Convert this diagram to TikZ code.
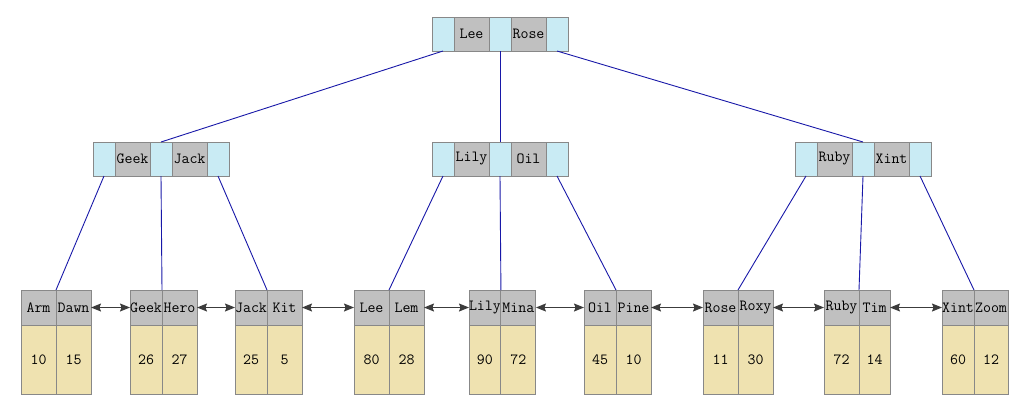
\documentclass[tikz,border=0pt]{standalone}
\usepackage{fontspec}
\usetikzlibrary{arrows.meta,positioning}
\definecolor{ptrcyan}{RGB}{201,235,244}
\definecolor{keygray}{RGB}{192,192,192}
\definecolor{valtan}{RGB}{239,226,176}
\definecolor{cellline}{RGB}{136,136,136}
\definecolor{treeblue}{RGB}{24,24,168}
\definecolor{sibgray}{RGB}{60,60,60}

\begin{document}
\begin{tikzpicture}[
      x=1pt, y=-1pt, node distance=0pt,
      cell/.style={draw=cellline, line width=0.9pt, inner sep=0pt, outer sep=0pt,
        font=\ttfamily\fontsize{15.5}{17}\selectfont},
      ptr/.style={cell, fill=ptrcyan, minimum width=22pt, minimum height=34pt},
      key/.style={cell, fill=keygray, minimum width=35pt, minimum height=34pt},
      lkey/.style={cell, fill=keygray, minimum height=35pt},
      val/.style={cell, fill=valtan, minimum height=69pt},
      link/.style={draw=treeblue, line width=0.9pt},
      sib/.style={{Stealth[length=10pt,width=8pt,inset=1.5pt]}-{Stealth[length=10pt,width=8pt,inset=1.5pt]},
        draw=sibgray, line width=1pt},
    ]
    \useasboundingbox (0,0) rectangle (1022,405);

    % root and inner nodes: pointer | key | pointer | key | pointer
    \foreach \n/\x/\y/\ka/\kb in {root/432/17/Lee/Rose, il/93/142/Geek/Jack,
        im/432/142/Lily/Oil, ir/795/142/Ruby/Xint} {
      \node[ptr, anchor=north west] (\n-p0) at (\x,\y) {};
      \node[key, right=of \n-p0] (\n-k1) {\ka};
      \node[ptr, right=of \n-k1] (\n-p1) {};
      \node[key, right=of \n-p1] (\n-k2) {\kb};
      \node[ptr, right=of \n-k2] (\n-p2) {};
    }

    % leaves: two keys on top, their values below
    \foreach \n/\x/\wa/\wb/\ka/\kb/\va/\vb in {
        1/21/35/35/Arm/Dawn/10/15, 2/130/32/35/Geek/Hero/26/27,
        3/235/32/35/Jack/Kit/25/5, 4/354/35/35/Lee/Lem/80/28,
        5/469/31/35/Lily/Mina/90/72, 6/584/32/35/Oil/Pine/45/10,
        7/703/35/35/Rose/Roxy/11/30, 8/824/35/31/Ruby/Tim/72/14,
        9/942/32/34/Xint/Zoom/60/12} {
      \node[lkey, minimum width=\wa pt, anchor=north west] (l\n a) at (\x,290) {\ka};
      \node[lkey, minimum width=\wb pt, right=of l\n a] (l\n b) {\kb};
      \node[val, minimum width=\wa pt, below=of l\n a] (v\n a) {\va};
      \node[val, minimum width=\wb pt, below=of l\n b] (v\n b) {\vb};
    }

    % tree links
    \draw[link] (root-p0.south) -- (il-p1.north);
    \draw[link] (root-p1.south) -- (im-p1.north);
    \draw[link] (root-p2.south) -- (ir-p1.north);
    \foreach \n/\i in {il/1, im/4, ir/7} {
      \pgfmathtruncatemacro{\j}{\i+1}
      \pgfmathtruncatemacro{\k}{\i+2}
      \draw[link] (\n-p0.south) -- (l\i a.north east);
      \draw[link] (\n-p1.south) -- (l\j a.north east);
      \draw[link] (\n-p2.south) -- (l\k a.north east);
    }

    % sibling links between leaves
    \foreach \i [count=\j from 2] in {1,...,8}
      \draw[sib] (l\i b.east) -- (l\j a.west);
  \end{tikzpicture}
\end{document}
